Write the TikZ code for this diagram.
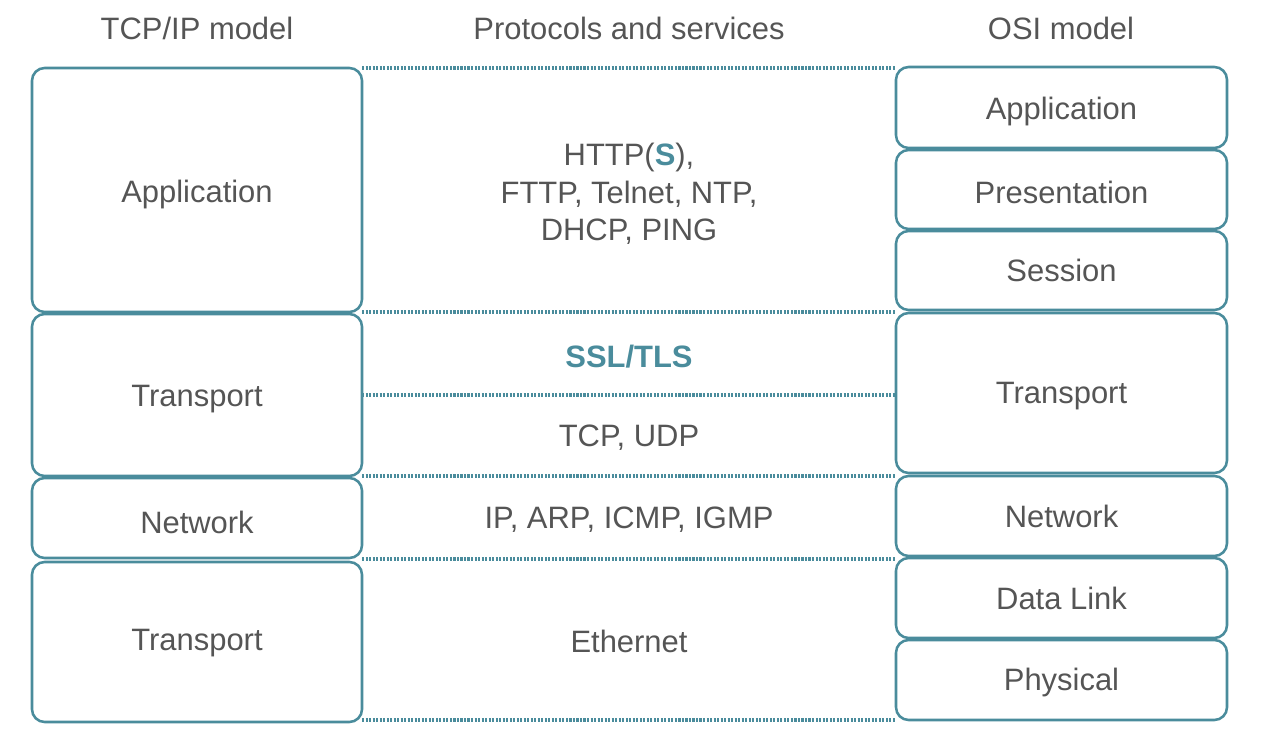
\documentclass[tikz,border=0pt]{standalone}
\usepackage{fontspec}
\setmainfont{Liberation Sans}
\definecolor{teal}{HTML}{4A8C9C}
\definecolor{txt}{HTML}{555555}
\begin{document}
\begin{tikzpicture}[x=0.025cm,y=-0.025cm,
  box/.style={draw=teal,line width=1.8pt,rounded corners=9pt,text=txt,font=\fontsize{22}{26}\selectfont},
  dl/.style={teal,line width=2.4pt,dash pattern=on 1.5pt off 1pt},
  lbl/.style={text=txt,font=\fontsize{22}{26}\selectfont,align=center},
  hd/.style={text=txt,font=\fontsize{22}{26}\selectfont}]
\useasboundingbox (0,0) rectangle (1270,740);
% left
\draw[box] (32,68) rectangle (362,312) node[midway,yshift=-3pt] (lapp) {Application};
\draw[box] (32,314) rectangle (362,476) node[midway,yshift=-3pt] (ltr) {Transport};
\draw[box] (32,478) rectangle (362,558) node[midway,yshift=-3pt] (lnet) {Network};
\draw[box] (32,562) rectangle (362,722) node[midway,yshift=-1pt] (ltr2) {Transport};
% right
\draw[box] (896,67) rectangle (1227,148) node[midway,yshift=-3pt] (rapp) {Application};
\draw[box] (896,150) rectangle (1227,229) node[midway,yshift=-2pt] (rpre) {Presentation};
\draw[box] (896,231) rectangle (1227,310) node[midway] (rses) {Session};
\draw[box] (896,313) rectangle (1227,473) node[midway,yshift=-2pt] (rtr) {Transport};
\draw[box] (896,476) rectangle (1227,556) node[midway] (rnet) {Network};
\draw[box] (896,558) rectangle (1227,638) node[midway] (rdl) {Data Link};
\draw[box] (896,640) rectangle (1227,720) node[midway,yshift=-2pt] (rph) {Physical};
% dotted
\foreach \y in {68,312,395,476,559,720} \draw[dl] (362,\y) -- (896,\y);
% headers
\node[hd] (h1) at (197,28) {TCP/IP model};
\node[hd] (h2) at (629,28) {Protocols and services};
\node[hd] (h3) at (1061,28) {OSI model};
% middle
\node[lbl,font=\fontsize{22}{26.5}\selectfont] (p1) at (629,194) {HTTP(\textcolor{teal}{\textbf{S}}),\\FTTP, Telnet, NTP,\\DHCP, PING};
\node[lbl,text=teal,font=\bfseries\fontsize{22}{26}\selectfont] (p2) at (629,357) {SSL/TLS};
\node[lbl] (p3) at (629,438) {TCP, UDP};
\node[lbl] (p4) at (629,520) {IP, ARP, ICMP, IGMP};
\node[lbl] (p5) at (629,641) {Ethernet};
\end{tikzpicture}
\end{document}
